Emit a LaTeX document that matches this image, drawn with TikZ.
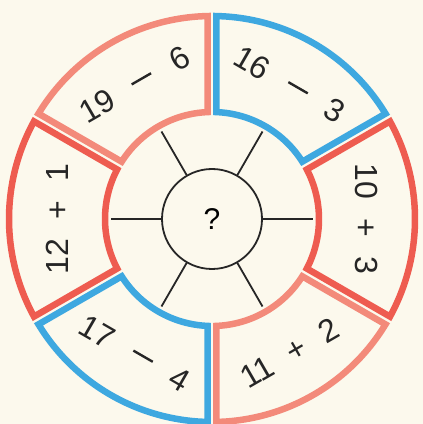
\documentclass[tikz,border=0pt]{standalone}
\usepackage{fontspec}
\setmainfont{Liberation Sans}
\usetikzlibrary{calc}
\definecolor{ringred}{RGB}{238,92,80}
\definecolor{ringpink}{RGB}{243,138,122}
\definecolor{ringblue}{RGB}{62,168,224}
\definecolor{paper}{RGB}{252,249,237}
\newcommand{\gapm}{\hspace{0.72em}}
\newcommand{\gapp}{\hspace{0.6em}}
\newcommand{\dash}{\rule[0.36em]{0.7em}{0.075em}}
\tikzset{
  segment/.style={line width=6.5pt,line join=miter},
  spoke/.style={line width=1.8pt,draw=black!85},
  sum/.style={font=\fontsize{32}{34}\selectfont,inner sep=0pt,text=black!85},
}

\begin{document}
\begin{tikzpicture}[x=1pt,y=1pt]
  \fill[paper] (0,0) rectangle (423,424);
  \useasboundingbox (0,0) rectangle (423,424);
  \def\Ri{107} \def\Ro{203} \def\Rt{155}
  \pgfmathsetmacro\di{asin(4.5/\Ri)}
  \pgfmathsetmacro\do{asin(4.5/\Ro)}
  \begin{scope}[shift={(212,205)}]
    \foreach \a/\col/\rot/\name/\txt in {90/ringpink/30/nineteen/{19\gapm\dash\gapm6},
                                        30/ringblue/-30/sixteen/{16\gapm\dash\gapm3},
                                        -30/ringred/-90/ten/{10\gapp+\gapp3},
                                        -90/ringpink/30/eleven/{11\gapp+\gapp2},
                                        -150/ringblue/-30/seventeen/{17\gapm\dash\gapm4},
                                        150/ringred/90/twelve/{12\gapp+\gapp1}}{
      \draw[segment,\col] (\a+\do:\Ro) arc[start angle=\a+\do,end angle=\a+60-\do,radius=\Ro]
        -- (\a+60-\di:\Ri) arc[start angle=\a+60-\di,end angle=\a+\di,radius=\Ri] -- cycle;
      \node[sum,rotate=\rot] (\name) at (\a+30:\Rt) {\txt};
    }
    \node[circle,spoke,minimum size=100pt,inner sep=0pt] (q) at (0,0) {\fontsize{30}{32}\selectfont ?};
    \foreach \a in {0,60,120,180,240,300}{
      \coordinate (s\a) at (\a:101);
      \draw[spoke] (q.\a) -- (s\a);
    }
  \end{scope}
\end{tikzpicture}
\end{document}
